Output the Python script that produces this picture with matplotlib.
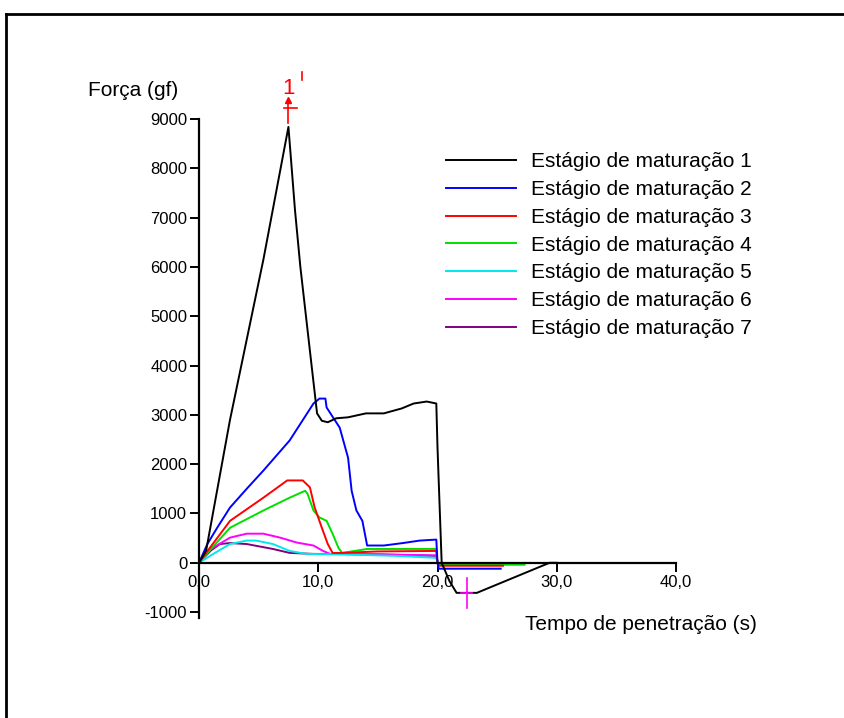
import numpy as np
import matplotlib
matplotlib.use("Agg")
from matplotlib import pyplot as plt
from matplotlib.lines import Line2D

plt.rcParams['font.family'] = ['Liberation Sans', 'DejaVu Sans']
plt.rcParams['axes.unicode_minus'] = False

# curves: time (s) and force (gf) for each maturation stage
t1 = [0, 0.6, 2.6, 5.4, 7.5, 8.05, 8.5, 9.3, 9.9, 10.3, 10.8, 11.5, 12.5, 14, 15.5, 17, 18, 19.1, 19.9, 20.0, 20.2, 20.35, 21.0, 21.6, 23.3, 29.4, 30.0]
f1 = [0, 250, 2900, 6150, 8840, 7150, 6000, 4300, 3030, 2880, 2850, 2930, 2950, 3030, 3030, 3130, 3230, 3270, 3230, 2340, 1000, 0, -370, -610, -610, 0, 0]

t2 = [0, 0.7, 1.5, 2.6, 4, 5.4, 7.6, 9.6, 10.1, 10.6, 10.7, 11.8, 12.5, 12.8, 13.2, 13.7, 14.1, 15.5, 17.1, 18.5, 19.9, 20.0, 20.1, 25.3]
f2 = [0, 380, 700, 1120, 1500, 1870, 2480, 3230, 3330, 3330, 3150, 2740, 2130, 1460, 1060, 850, 350, 350, 400, 450, 470, 0, -120, -120]

t3 = [0, 0.9, 1.8, 2.6, 5.4, 7.4, 8.7, 9.3, 9.7, 10.3, 10.8, 11.2, 12, 15, 19.9, 20.0, 20.1, 25.5]
f3 = [0, 300, 590, 850, 1320, 1670, 1670, 1530, 1120, 710, 380, 200, 200, 230, 240, 0, -60, -60]

t4 = [0, 1, 2.6, 5.4, 7.6, 8.9, 9.1, 9.6, 10.1, 10.7, 11.2, 11.7, 12, 14.1, 19.9, 20.0, 20.1, 27.3]
f4 = [0, 280, 710, 1060, 1320, 1460, 1400, 1060, 920, 850, 590, 300, 200, 280, 280, 0, -40, -40]

t5 = [0, 1.2, 2.6, 4, 4.8, 6.2, 7.6, 9, 12, 16.6, 19.9, 20.0, 20.1, 24]
f5 = [0, 180, 380, 450, 450, 380, 240, 180, 170, 140, 100, 0, -40, -40]

t6 = [0, 1, 2.6, 4, 5.4, 6.8, 8.2, 9.6, 10.4, 11, 15, 19.9, 20.0, 20.1, 24]
f6 = [0, 280, 510, 590, 590, 510, 410, 350, 240, 180, 170, 150, 0, -40, -40]

t7 = [0, 1, 1.76, 2.6, 4, 6.2, 7.6, 9.6, 15, 19.9, 20.0, 20.1, 24]
f7 = [0, 250, 380, 400, 380, 280, 200, 180, 170, 140, 0, -40, -40]

labels = [f'Estágio de maturação {i}' for i in range(1, 8)]
colors = ['black', '#0000ff', '#ff0000', '#00e000', '#00e8f0', '#ff00ff', '#800080']

xticks = [0, 10, 20, 30, 40]
xticklabels = ['0,0', '10,0', '20,0', '30,0', '40,0']
yticks = list(range(-1000, 10000, 1000))

fig = plt.figure(figsize=(8.45, 7.18), dpi=100)
ax = fig.add_axes([199/845, 1 - 618/718, 477/845, (618 - 119)/718])

series = [(t1, f1), (t2, f2), (t3, f3), (t4, f4), (t5, f5), (t6, f6), (t7, f7)]
# draw back to front so the black one sits on top like the original
for i in reversed(range(7)):
    t, f = series[i]
    ax.plot(t, f, color=colors[i], lw=1.4, label=labels[i], clip_on=False)

ax.set_xlim(0, 40)
ax.set_ylim(-1120, 9000)
ax.spines['top'].set_visible(False)
ax.spines['right'].set_visible(False)
ax.spines['bottom'].set_position(('data', 0))
ax.spines['bottom'].set_linewidth(1.6)
ax.spines['left'].set_linewidth(1.6)
ax.set_xticks(xticks)
ax.set_xticklabels(xticklabels)
ax.set_yticks(yticks)
ax.tick_params(axis='both', direction='out', length=6.5, width=1.4, labelsize=12, pad=2)
ax.yaxis.get_major_ticks()[0].tick1line.set_color('#0000ff')

# legend in stage order
h, l = ax.get_legend_handles_labels()
order = np.argsort(l)
ax.legend([h[k] for k in order], [l[k] for k in order], frameon=False,
          loc='upper left', bbox_to_anchor=(436/845, 1 - 142/718),
          bbox_transform=fig.transFigure, fontsize=15,
          handlelength=3.35, handletextpad=0.7, labelspacing=0.42, borderpad=0)

# red cursor marker on the peak
ax.plot([7.5, 7.5], [8920, 9380], color='red', lw=1.2, clip_on=False)
ax.plot([7.5], [9380], marker='^', color='red', ms=4, clip_on=False)
ax.plot([7.1, 8.2], [9230, 9230], color='red', lw=1.2, clip_on=False)
ax.text(7.5, 9620, '1', color='red', fontsize=16, ha='center', va='center', clip_on=False)
ax.plot([8.6, 8.6], [9800, 9950], color='red', lw=1.2, clip_on=False)

# magenta cross under the negative dip
ax.plot([22.5, 22.5], [-300, -915], color='#ff00ff', lw=1.2, clip_on=False)
ax.plot([22.0, 22.9], [-610, -610], color='#ff00ff', lw=1.2, clip_on=False)

fig.text(88/845, 1 - 90/718, 'Força (gf)', fontsize=15, ha='left', va='center')
fig.text(757/845, 1 - 625/718, 'Tempo de penetração (s)', fontsize=15, ha='right', va='center')

# outer frame of the screenshot
fig.add_artist(Line2D([6/845, 6/845], [0, 1 - 14/718], color='black', lw=2, transform=fig.transFigure))
fig.add_artist(Line2D([6/845, 1], [1 - 14/718, 1 - 14/718], color='black', lw=2, transform=fig.transFigure))

fig.savefig('out.png', dpi=100)
